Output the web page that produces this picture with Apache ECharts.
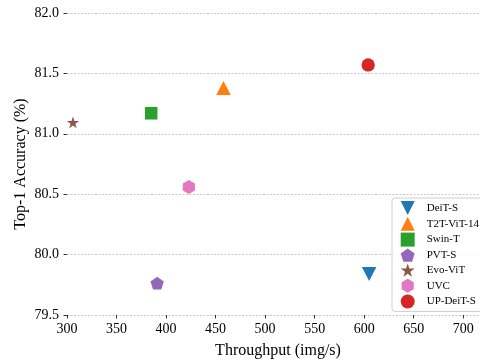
<!DOCTYPE html>
<html>
<head>
<meta charset="utf-8">
<script src="https://cdn.jsdelivr.net/npm/echarts@6/dist/echarts.min.js"></script>
<style>html,body{margin:0;padding:0;background:#fff;}#c{width:480px;height:362px;}</style>
</head>
<body>
<div id="c"></div>
<script>
const methods = ['DeiT-S', 'T2T-ViT-14', 'Swin-T', 'PVT-S', 'Evo-ViT', 'UVC', 'UP-DeiT-S'];
const throughput = [605, 458, 385, 391, 306, 423, 604];
const accuracy = [79.84, 81.38, 81.17, 79.77, 81.10, 80.56, 81.57];
const colors = ['#1f77b4', '#ff7f0e', '#2ca02c', '#9467bd', '#8c564b', '#e377c2', '#d62728'];
const yTicks = ['79.5', '80.0', '80.5', '81.0', '81.5', '82.0'];
const xTicks = [300, 350, 400, 450, 500, 550, 600, 650, 700];

const triDown = 'path://M0,0 L2,0 L1,2 Z';
const pentagon = 'path://M0,-1 L0.951,-0.309 L0.588,0.809 L-0.588,0.809 L-0.951,-0.309 Z';
function starPath() {
  let d = '';
  for (let i = 0; i < 10; i++) {
    const r = i % 2 === 0 ? 1 : 0.381966;
    const a = -Math.PI / 2 + i * Math.PI / 5;
    d += (i === 0 ? 'M' : 'L') + (r * Math.cos(a)).toFixed(4) + ',' + (r * Math.sin(a)).toFixed(4) + ' ';
  }
  return 'path://' + d + 'Z';
}
const hexagon = 'path://M0,-1 L0.866,-0.5 L0.866,0.5 L0,1 L-0.866,0.5 L-0.866,-0.5 Z';

const symbols = [triDown, 'triangle', 'rect', pentagon, starPath(), hexagon, 'circle'];
const sizes = [[14.5, 14], [14.5, 14], 12.5, [13.3, 12.7], [12.4, 11.8], [12.2, 14], 13.3];
const offsets = [[0, 0], [0, 0], [0, 0], [0, 0.7], [0, 0.6], [0, 0], [0, 0]];

const font = 'Liberation Serif';
const series = methods.map((m, i) => ({
  name: m,
  type: 'scatter',
  data: [[throughput[i], accuracy[i]]],
  symbol: symbols[i],
  symbolSize: sizes[i],
  symbolOffset: offsets[i],
  itemStyle: { color: colors[i], opacity: 1 },
  z: 5
}));

const chart = echarts.init(document.getElementById('c'), null, { renderer: 'canvas' });
chart.setOption({
  animation: false,
  backgroundColor: '#fff',
  grid: { left: 67, width: 422, top: 13, bottom: 47, containLabel: false, outerBoundsMode: 'none' },
  xAxis: {
    type: 'value', min: 300, max: 726, interval: 50,
    name: 'Throughput (img/s)', nameLocation: 'middle', nameGap: 28, nameMoveOverlap: false,
    nameTextStyle: { fontFamily: font, fontSize: 16, color: '#000' },
    axisLine: { show: false },
    axisTick: { show: true, length: 3.5, lineStyle: { color: '#000', width: 0.8 } },
    axisLabel: { fontFamily: font, fontSize: 14, color: '#000', margin: 7, showMaxLabel: false,
      formatter: v => (xTicks.indexOf(v) >= 0 ? String(v) : '') },
    splitLine: { show: false }
  },
  yAxis: {
    type: 'value', min: 79.5, max: 82.0, interval: 0.5,
    name: 'Top-1 Accuracy (%)', nameLocation: 'middle', nameGap: 38, nameMoveOverlap: false,
    nameTextStyle: { fontFamily: font, fontSize: 16, color: '#000' },
    axisLine: { show: false },
    axisTick: { show: true, length: 3.5, lineStyle: { color: '#000', width: 0.8 } },
    axisLabel: { fontFamily: font, fontSize: 14, color: '#000', margin: 8,
      formatter: v => yTicks[Math.round((v - 79.5) / 0.5)] },
    splitLine: { show: true, lineStyle: { color: '#b8b8b8', width: 0.8, type: [2, 1.5] } }
  },
  legend: {
    orient: 'vertical', left: 392, top: 198,
    padding: [3, 30, 3, 8.7],
    itemWidth: 14, itemHeight: 14, itemGap: 1.8,
    backgroundColor: 'rgba(255,255,255,0.85)',
    borderColor: '#d0d0d0', borderWidth: 1, borderRadius: 3,
    textStyle: { fontFamily: font, fontSize: 11, color: '#000', padding: [0, 0, 0, 7] },
    data: methods
  },
  series: series
});
</script>
</body>
</html>
